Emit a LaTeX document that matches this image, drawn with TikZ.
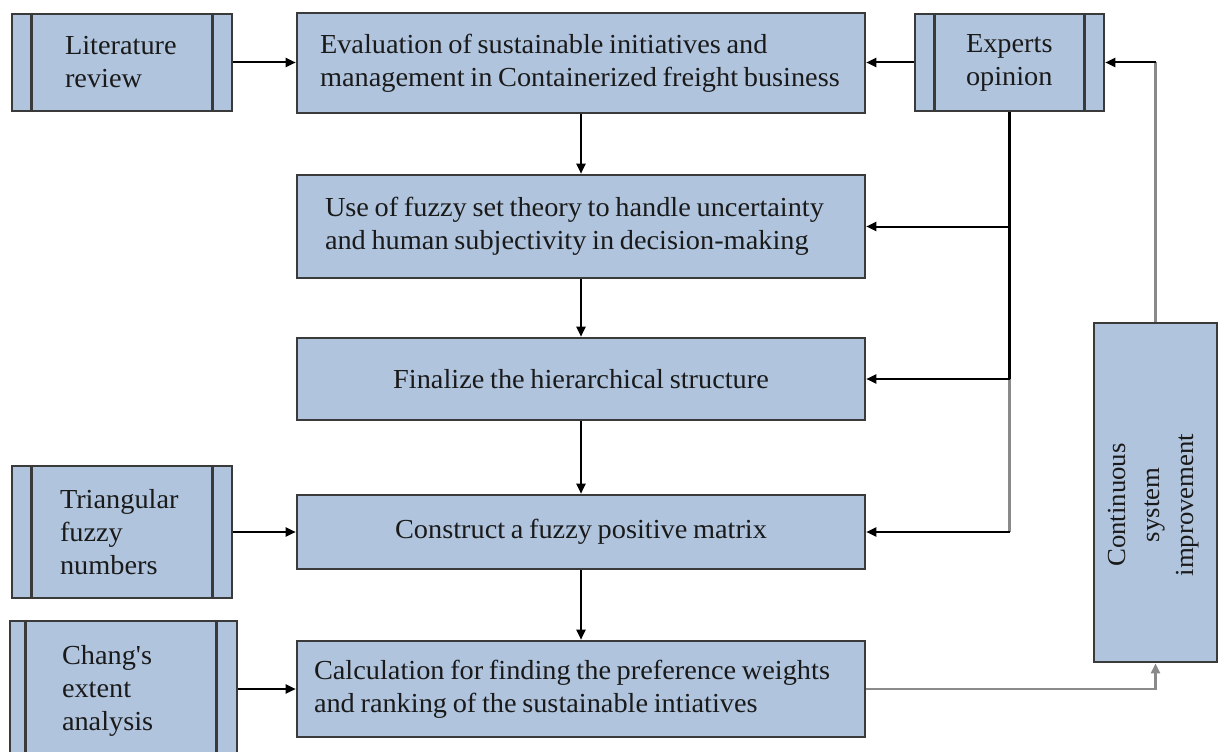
\documentclass[tikz,border=0pt]{standalone}
\usepackage{fontspec}
\setmainfont{Liberation Serif}[Ligatures=TeXOff, WordSpace=0.8, FakeStretch=1.03]
\usetikzlibrary{arrows.meta,calc}
\definecolor{boxfill}{HTML}{B0C4DE}
\definecolor{boxedge}{HTML}{3A3A3A}
\definecolor{txt}{HTML}{1A1A1A}
\definecolor{softline}{HTML}{8A8A8A}
\newcommand{\nsline}[1]{\mbox{\spaceskip=0pt\xspaceskip=0pt\relax #1}}
\tikzset{
  box/.style={draw=boxedge, line width=2.6pt, fill=boxfill, text=txt, inner sep=0pt,
    font=\fontsize{27.5}{33}\selectfont},
  mainbox/.style={box, minimum width=568pt},
  sidebox/.style={box, align=left},
  bar/.style={draw=boxedge, line width=2.6pt},
  conn/.style={draw=black, line width=2pt},
  soft/.style={draw=softline, line width=2.4pt},
  tip/.style={-{Triangle[length=10pt,width=9pt]}}
}
\begin{document}
\begin{tikzpicture}[x=1pt,y=-1pt]
\clip (0,0) rectangle (1218,752);
\fill[white] (0,0) rectangle (1218,752);

% main column
\node[mainbox, minimum height=100pt, text width=522pt, inner xsep=23pt, align=left] (eval) at (581,63)
  {\nsline{Evaluation of sustainable initiatives and}\\\nsline{management in Containerized freight business}};
\node[mainbox, minimum height=103pt, text width=512pt, inner xsep=28pt, align=left] (fuzzy) at (581,226.5)
  {\nsline{Use of fuzzy set theory to handle uncertainty}\\\nsline{and human subjectivity in decision-making}};
\node[mainbox, minimum height=82pt] (final) at (581,379)
  {Finalize the hierarchical structure};
\node[mainbox, minimum height=74pt] (construct) at (581,532)
  {Construct a fuzzy positive matrix};
\node[mainbox, minimum height=96pt, text width=534pt, inner xsep=17pt, align=left] (calc) at (581,689)
  {\nsline{Calculation for finding the preference weights}\\\nsline{and ranking of the sustainable intiatives}};

% side boxes
\node[sidebox, minimum width=220pt, minimum height=97pt, text width=114pt, inner xsep=53pt] (lit) at (122,62.5)
  {Literature\\review};
\node[sidebox, minimum width=220pt, minimum height=132pt, text width=124pt, inner xsep=48pt] (tri) at (122,532)
  {Triangular\\fuzzy\\numbers};
\node[sidebox, minimum width=227pt, minimum height=140pt, text width=123pt, inner xsep=52pt] (chang) at (123.5,691)
  {Chang's\\extent\\analysis};
\node[sidebox, minimum width=189pt, minimum height=97pt, text width=87pt, inner xsep=51pt] (experts) at (1009.5,62.5)
  {Experts\\opinion};
\node[box, minimum width=123pt, minimum height=339pt] (cont) at (1155.5,492.5) {};
\node[rotate=90, align=center, text=txt, inner sep=0pt, font=\fontsize{26}{34}\selectfont] (conttxt) at (1154,505)
  {Continuous\\system\\improvement};

% inner bars of the predefined-process boxes
\draw[bar] ([xshift=21pt]lit.north west) -- ([xshift=21pt]lit.south west);
\draw[bar] ([xshift=-21pt]lit.north east) -- ([xshift=-21pt]lit.south east);
\draw[bar] ([xshift=21pt]tri.north west) -- ([xshift=21pt]tri.south west);
\draw[bar] ([xshift=-21pt]tri.north east) -- ([xshift=-21pt]tri.south east);
\draw[bar] ([xshift=17pt]chang.north west) -- ([xshift=17pt]chang.south west);
\draw[bar] ([xshift=-22pt]chang.north east) -- ([xshift=-22pt]chang.south east);
\draw[bar] ([xshift=21pt]experts.north west) -- ([xshift=21pt]experts.south west);
\draw[bar] ([xshift=-21pt]experts.north east) -- ([xshift=-21pt]experts.south east);

% main flow
\draw[conn, tip] (eval.south) -- (fuzzy.north);
\draw[conn, tip] (fuzzy.south) -- (final.north);
\draw[conn, tip] (final.south) -- (construct.north);
\draw[conn, tip] (construct.south) -- (calc.north);

% inputs from the left
\draw[conn, tip] (lit.east) -- (lit.east -| eval.west);
\draw[conn, tip] (tri.east) -- (tri.east -| construct.west);
\draw[conn, tip] (chang.east |- calc.west) -- (calc.west);

% experts opinion
\draw[conn, tip] (experts.west) -- (experts.west -| eval.east);
\draw[conn, line width=2.4pt] (experts.south) -- (experts.south |- final.east);
\draw[soft] (experts.south |- final.east) -- (experts.south |- construct.east);
\draw[conn, tip] (experts.south |- fuzzy.east) -- (fuzzy.east);
\draw[conn, tip] (experts.south |- final.east) -- (final.east);
\draw[conn, tip] (experts.south |- construct.east) -- (construct.east);

% continuous improvement loop
\draw[soft, tip] (calc.east) -- (cont.south |- calc.east) -- (cont.south);
\draw[soft] (cont.north) -- (cont.north |- experts.east);
\draw[conn, tip] (cont.north |- experts.east) -- (experts.east);
\end{tikzpicture}
\end{document}
